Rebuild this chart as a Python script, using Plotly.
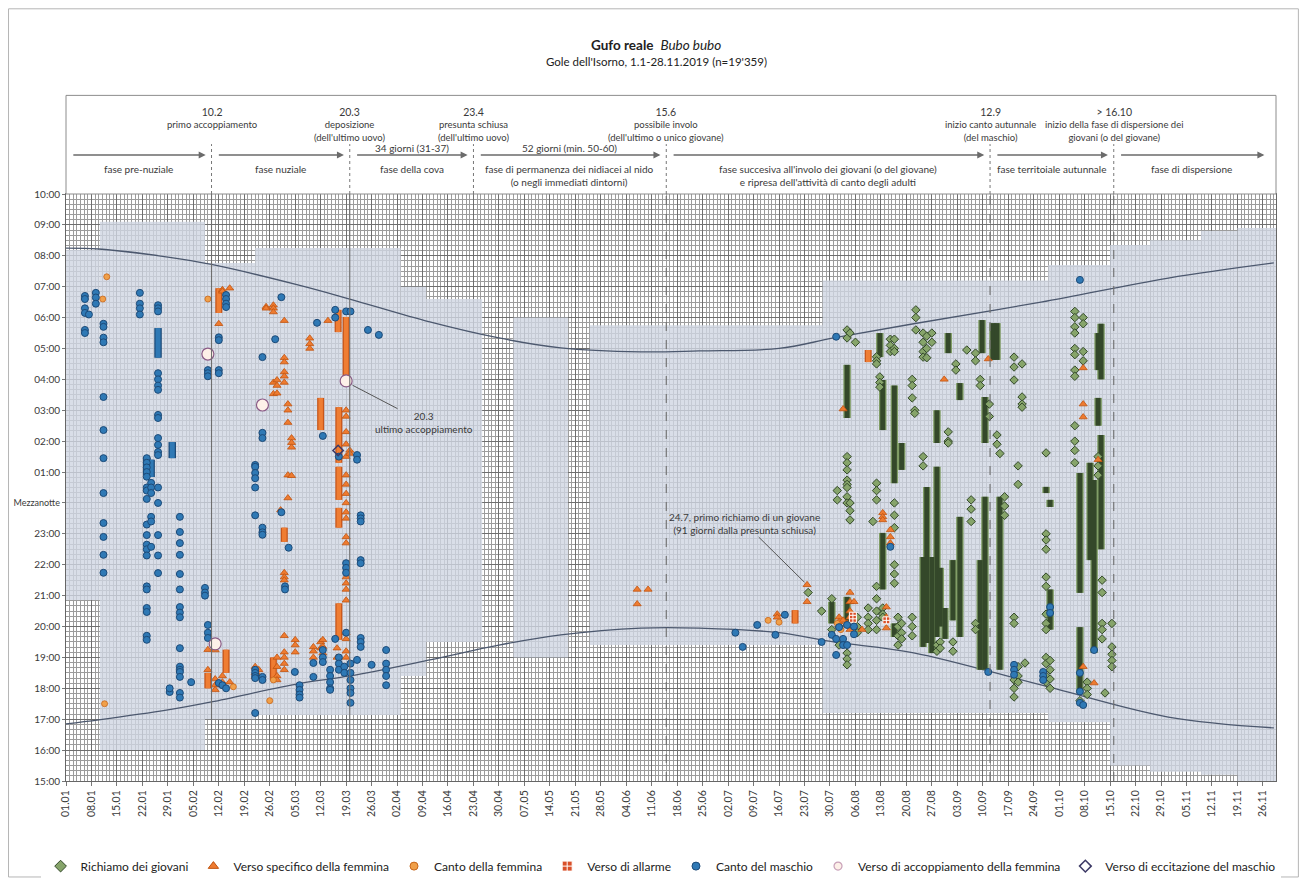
import plotly.graph_objects as go
from datetime import date

YEAR = 2019

# ---------------- axis labels ----------------
TICK_DATES = ["01.01", "08.01", "15.01", "22.01", "29.01", "05.02", "12.02", "19.02", "26.02",
              "05.03", "12.03", "19.03", "26.03", "02.04", "09.04", "16.04", "23.04", "30.04",
              "07.05", "14.05", "21.05", "28.05", "04.06", "11.06", "18.06", "25.06", "02.07",
              "09.07", "16.07", "23.07", "30.07", "06.08", "13.08", "20.08", "27.08", "03.09",
              "10.09", "17.09", "24.09", "01.10", "08.10", "15.10", "22.10", "29.10", "05.11",
              "12.11", "19.11", "26.11"]
Y_HOURS = [15, 16, 17, 18, 19, 20, 21, 22, 23, 24, 25, 26, 27, 28, 29, 30, 31, 32, 33, 34]
Y_LABELS = ["15:00", "16:00", "17:00", "18:00", "19:00", "20:00", "21:00", "22:00", "23:00",
            "Mezzanotte", "01:00", "02:00", "03:00", "04:00", "05:00", "06:00", "07:00",
            "08:00", "09:00", "10:00"]

# ---------------- phases / events ----------------
EVENT_DATES = ["10.02", "20.03", "23.04", "15.06", "12.09", "16.10"]
EVENT_TITLES = ["10.2", "20.3", "23.4", "15.6", "12.9", "> 16.10"]
EVENT_TEXTS = ["primo accoppiamento",
               "deposizione<br>(dell'ultimo uovo)",
               "presunta schiusa<br>(dell'ultimo uovo)",
               "possibile involo<br>(dell'ultimo o unico giovane)",
               "inizio canto autunnale<br>(del maschio)",
               "inizio della fase di dispersione dei<br>giovani (o del giovane)"]
PHASE_START, PHASE_END = "01.01", "28.11"
PHASE_LABELS = ["fase pre-nuziale", "fase nuziale", "fase della cova",
                "fase di permanenza dei nidiacei al nido<br>(o negli immediati dintorni)",
                "fase succesiva all'involo dei giovani (o del giovane)<br>e ripresa dell'attività di canto degli adulti",
                "fase territoiale autunnale", "fase di dispersione"]
PHASE_DURATIONS = ["", "", "34 giorni (31-37)", "52 giorni (min. 50-60)", "", "", ""]

# ---------------- sun (day of year, hour; hours after midnight +24) ----------------
SUN_DAYS = [0, 9, 28, 40, 64, 78, 100, 119, 136, 158, 174, 196, 211, 233, 268, 303, 332]
SUNRISE = [32.25, 32.22, 31.96, 31.72, 31.05, 30.6, 29.86, 29.34, 29.02, 28.89, 28.92, 29.0,
           29.34, 29.8, 30.5, 31.28, 31.77]
SUNSET = [16.85, 16.98, 17.3, 17.56, 18.15, 18.4, 18.92, 19.4, 19.73, 19.95, 19.95, 19.8,
          19.5, 19.15, 18.11, 17.07, 16.72]

# ---------------- recording windows ----------------
BAND_START = [0, 9.3, 38.2, 52, 92, 99, 123, 144, 208, 270, 287, 298, 312, 322]
BAND_END = [9.3, 38.2, 52, 92, 99, 114.4, 138, 208, 270, 287, 298, 312, 322, 332.6]
BAND_FROM = [20.86, 16.0, 17.0, 17.14, 18.4, 19.5, 19.0, 19.4, 17.2, 16.9, 15.5, 15.3, 15.2, 15.0]
BAND_TO = [32.19, 33.1, 31.77, 32.25, 31.0, 30.6, 30.0, 29.75, 31.2, 31.7, 32.35, 32.5, 32.8, 32.9]

# ---------------- observations (day of year, [hours]) ----------------
RICHIAMO_PTS = [
    (204.0, [21.1]), (207.7, [20.5]), (210.5, [20.9, 19.9]), (212.0, [24.4, 24.1]),
    (212.5, [20.0, 19.4]),
    (214.7, [29.6, 29.34, 25.5, 25.3, 25.07, 24.74, 24.6, 24.5, 24.2, 24.0, 19.14, 18.95, 18.76]),
    (215.5, [29.5, 24.0, 23.75, 23.45]), (217.0, [29.2]), (217.5, [20.3, 20.0, 19.8]),
    (220.5, [20.6, 20.3, 20.1, 19.9]), (221.8, [23.4]),
    (222.8, [28.73, 28.6, 28.5, 24.64, 24.4, 24.1, 21.3, 20.9, 20.5, 20.2, 19.9]),
    (223.7, [28.08, 27.9, 27.75]), (224.5, [20.6, 20.4, 20.3]), (226.6, [29.3, 29.1, 28.9]),
    (227.7, [29.3, 29.0, 28.9, 24.0, 23.6, 23.2, 22.0, 21.7, 21.4]),
    (228.7, [20.3, 20.0, 19.7, 19.4]), (229.7, [20.1, 19.8, 19.6]),
    (232.6, [28.0, 27.8, 27.4, 20.3, 20.0, 19.7]), (233.3, [27.0, 26.9]),
    (233.6, [30.25, 30.0, 29.6]), (235.6, [29.5, 29.2, 28.9, 28.72, 25.5, 25.2]),
    (236.6, [29.4, 29.0, 28.7]), (238.0, [29.5, 29.2]), (239.4, [19.4, 19.2]),
    (240.3, [19.5, 19.3]), (242.5, [26.3, 26.0, 25.94]), (243.8, [19.5, 19.2]),
    (244.6, [28.5, 28.3]), (247.6, [28.95]), (248.8, [24.1, 23.8, 23.4]),
    (250.0, [28.85, 28.6, 20.1, 19.9]), (251.3, [28.0, 27.8]), (253.8, [27.2, 26.8]),
    (255.9, [26.2, 25.9]), (256.7, [25.6]), (258.0, [24.2, 23.9, 23.6]),
    (260.6, [28.72, 28.4, 27.98, 20.3, 20.1, 18.27, 18.0, 17.72]),
    (261.7, [25.2, 24.6, 18.7, 18.4, 18.2]), (262.8, [28.5, 27.43, 27.2, 27.1]),
    (263.6, [18.82]),
    (269.4, [25.62, 23.0, 22.8, 22.5, 21.6, 21.3, 20.4, 20.1, 19.9, 19.0, 18.8, 18.4, 18.2]),
    (270.5, [18.9, 18.6, 18.3, 18.0]),
    (277.3, [30.2, 30.0, 29.7, 29.5, 29.0, 28.8, 28.3, 28.1, 26.5, 26.0, 25.7, 25.3]),
    (278.7, [17.6]), (279.6, [30.0, 29.8, 28.9, 28.6]), (280.7, [18.2, 18.0, 17.8]),
    (283.7, [25.5, 25.2, 24.9]), (284.8, [21.5, 21.1, 20.1, 19.9, 19.6]), (285.6, [17.85]),
    (287.5, [20.1, 19.34, 19.1, 18.9, 18.7]),
]
RICHIAMO_RUNS = [
    (210.5, 20.1, 20.8), (214.7, 26.75, 28.47), (214.7, 20.1, 20.96), (223.7, 28.72, 29.5),
    (224.5, 26.36, 27.98), (224.5, 21.2, 23.03), (227.7, 24.64, 27.8), (227.7, 19.66, 20.1),
    (229.7, 25.07, 25.94), (235.6, 19.34, 22.25), (236.6, 19.47, 24.52), (238.0, 19.14, 22.25),
    (239.4, 25.94, 27.0), (239.4, 19.66, 25.17), (240.3, 20.0, 21.9), (241.6, 19.6, 20.6),
    (242.5, 28.85, 29.5), (243.8, 20.2, 22.15), (245.7, 27.33, 27.88), (245.7, 19.66, 23.55),
    (251.3, 18.6, 22.15), (251.8, 28.85, 29.92), (252.6, 25.94, 27.43), (252.6, 18.6, 24.2),
    (254.8, 28.63, 29.82), (255.9, 28.63, 29.82), (256.7, 18.6, 24.2), (269.4, 24.32, 24.52),
    (270.5, 23.87, 24.1), (270.5, 19.9, 21.2), (278.7, 21.09, 24.97), (278.7, 17.85, 19.98),
    (281.5, 22.15, 25.3), (282.6, 19.14, 24.74), (283.7, 28.3, 29.5), (283.7, 26.5, 27.4),
    (284.5, 28.0, 29.8), (284.5, 22.5, 26.2),
]

FEMMINA_SPEC_PTS = [
    (39.0, [19.25, 18.6]), (41.0, [19.24, 18.3, 18.1, 17.95]), (42.0, [29.8]),
    (43.0, [30.9, 30.85, 18.4, 18.2]), (45.0, [30.95, 18.2]), (52.0, [18.7, 18.5, 18.37]),
    (53.0, [18.6, 18.4]), (55.0, [30.35, 30.3]), (57.0, [30.4, 30.3, 30.18, 27.9, 27.53]),
    (58.0, [27.98, 27.8, 27.55, 19.0, 18.7, 18.4, 18.27]), (59.0, [23.77]),
    (60.0, [29.9, 28.7, 28.56, 28.24, 28.1, 27.9, 21.74, 21.6, 21.5, 19.7, 19.17, 19.0, 18.8, 18.6]),
    (61.0, [27.2, 27.0, 26.6, 24.9, 24.16]), (62.0, [26.1, 25.95, 25.8, 24.88]),
    (63.0, [19.57, 19.4, 19.17]), (67.0, [29.33, 29.15, 29.0]), (68.0, [19.34, 19.2, 19.0]),
    (70.0, [19.5, 19.3]), (70.6, [19.57, 19.35, 19.14]), (72.0, [29.9]), (74.5, [19.3, 19.0]),
    (77.0, [27.0, 26.8, 26.3, 25.9, 25.5, 24.9, 24.6, 24.3, 24.0, 23.7, 23.5, 22.9, 22.7,
            21.6, 21.4, 21.2, 20.85, 19.8, 19.6, 19.2, 19.0]),
    (78.0, [25.7, 25.6]), (157.0, [21.2, 20.73]), (160.0, [21.2]), (195.5, [20.4, 20.3]),
    (203.7, [21.35, 20.8]), (212.5, [20.3, 20.15, 20.0]), (213.6, [27.04, 20.2]),
    (214.7, [20.1]), (215.5, [21.1, 20.8, 20.5, 20.3, 19.9]), (216.6, [20.8, 20.0]),
    (218.8, [19.9]), (224.5, [23.68, 23.55, 23.45]), (225.5, [20.63, 20.3, 19.95]),
    (226.6, [23.13, 22.9, 22.7]), (241.4, [28.0]), (253.5, [28.66]),
    (279.6, [28.37, 27.2, 26.78, 18.7]), (282.6, [18.17]), (283.7, [25.4]),
]
FEMMINA_SPEC_RUNS = [
    (39.0, 18.0, 18.5), (42.0, 30.15, 30.95), (44.0, 18.5, 19.25), (57.0, 18.27, 19.0),
    (60.0, 22.74, 23.2), (70.0, 26.36, 27.4), (74.8, 29.53, 30.25), (75.0, 25.3, 27.1),
    (75.0, 24.1, 25.17), (75.0, 23.2, 23.84), (75.0, 19.57, 20.75), (77.0, 27.98, 30.02),
    (200.4, 20.1, 20.53), (220.5, 28.56, 28.95),
]

CANTO_FEMMINA_PTS = [
    (10.1, [30.6]), (11.2, [31.32]), (10.6, [17.5]), (39.0, [30.6]), (46.0, [18.05]),
    (56.0, [17.6]), (57.0, [18.27]), (193.0, [20.2]), (196.0, [20.14]), (212.0, [20.1]),
    (213.0, [19.9]), (216.6, [20.2]),
]

ALLARME_PTS = [(216.3, [20.35, 20.25]), (225.5, [20.2])]

MASCHIO_PTS = [
    (5.2, [30.7, 30.6, 30.3, 30.15, 29.6, 29.5]), (6.3, [30.1]), (8.2, [30.8, 30.65, 30.45]),
    (10.3, [29.8, 29.7, 29.35, 29.2, 27.43, 26.36, 25.45, 24.32, 23.35, 22.9, 22.32, 21.74]),
    (20.3, [30.8, 30.45, 30.3, 30.1]),
    (22.2, [25.45, 25.3, 25.15, 25.0, 24.85, 24.5, 24.4, 24.13, 23.3, 22.96, 22.65, 22.5, 22.3,
            21.3, 21.2, 20.6, 20.47, 19.7, 19.57]),
    (23.4, [24.65, 24.5, 24.32, 23.55, 23.4, 22.58]),
    (25.3, [30.4, 30.3, 30.2, 28.2, 28.0, 27.8, 27.66, 26.85, 26.75, 26.1, 25.88, 25.65, 25.55,
            24.5, 24.0, 22.96, 22.3, 21.73]),
    (28.5, [17.88, 18.0]),
    (31.3, [23.55, 23.06, 22.7, 22.32, 21.7, 21.2, 20.63, 20.45, 20.3, 19.3, 18.7, 18.6, 18.53,
            18.37, 17.85, 17.7]),
    (34.4, [18.2]), (38.2, [21.25, 21.1, 21.0]), (39.0, [20.05, 19.8, 19.63, 28.3, 28.2, 28.1]),
    (42.0, [18.17, 29.36, 29.27, 28.3, 28.2]), (43.0, [18.1]),
    (44.0, [18.0, 30.73, 30.6, 30.45, 30.34]),
    (52.0, [25.23, 25.17, 24.97, 24.8, 24.5, 23.6, 18.6, 18.5, 18.4, 18.33, 17.2]),
    (54.0, [28.72, 26.27, 26.1, 23.2, 23.05, 22.97, 18.37, 18.27]), (57.5, [29.3]),
    (59.2, [30.66, 23.7]), (60.2, [21.3, 21.2]), (61.2, [22.55]), (62.9, [18.53]),
    (64.2, [18.1, 17.95, 17.8, 17.7]), (68.0, [18.82, 18.37]), (69.0, [29.83]),
    (70.6, [26.17, 19.24, 19.0, 18.85]), (72.6, [18.6, 18.4, 18.2, 18.0, 17.95]),
    (74.0, [30.25, 30.0, 19.6]), (75.0, [25.5, 19.0, 18.8, 18.6]), (76.5, [18.7, 18.5]),
    (77.0, [30.2, 22.05, 21.9, 21.74, 19.8]), (78.2, [30.2, 18.8, 18.5, 18.27, 18.0, 17.85, 17.53]),
    (80.0, [25.55, 25.4, 18.92]), (81.0, [23.6, 23.5, 23.4, 22.15, 22.05, 19.63, 19.5, 19.34]),
    (83.0, [29.6]), (84.0, [18.76]), (86.0, [29.44]), (88.0, [19.24, 18.8, 18.6, 18.4, 18.1]),
    (184.0, [19.8]), (186.0, [19.34]), (190.0, [20.05]), (195.0, [19.73]), (197.6, [20.38]),
    (207.7, [19.5]), (210.5, [19.73]), (211.7, [29.38, 19.6, 19.08]), (212.5, [19.98]),
    (213.6, [19.6, 19.4]), (214.7, [20.05, 19.4]), (216.6, [20.0, 19.75]), (226.6, [22.58]),
    (253.5, [18.53]), (260.6, [18.76, 18.6, 18.44]), (268.6, [18.53, 18.4, 18.27]),
    (270.5, [20.63, 20.44]), (278.7, [31.22, 18.5, 17.9, 17.53]), (279.6, [17.46]),
    (282.6, [19.24]),
]
MASCHIO_RUNS = [(22.2, 24.9, 25.45), (23.4, 24.84, 25.4), (25.3, 28.7, 29.66), (29.2, 25.45, 25.97)]

ACCOPPIAMENTO_PTS = [(39.0, [28.82]), (41.0, [19.44]), (54.0, [27.17]), (77.0, [27.95])]
ECCITAZIONE_PTS = [(74.8, [25.7])]


# ---------------- helpers ----------------
def doy(s):
    d, m = s.split(".")
    return (date(YEAR, int(m), int(d)) - date(YEAR, 1, 1)).days


def pts(cols):
    xs, ys = [], []
    for d, hs in cols:
        for h in hs:
            xs.append(d)
            ys.append(h)
    return xs, ys


def runs(rs):
    xs, ys = [], []
    for d, a, b in rs:
        xs += [d, d, None]
        ys += [a, b, None]
    return xs, ys


FONT = "Lato"
TXT = "#3a3a3a"

fig = go.Figure()

# sun lines
for series in (SUNRISE, SUNSET):
    fig.add_trace(go.Scatter(x=SUN_DAYS, y=series, mode="lines",
                             line=dict(color="#4c586e", width=1.3, shape="spline"),
                             showlegend=False, hoverinfo="skip"))

GREEN_FILL, GREEN_LINE = "#86a46a", "#33492a"
TRI_FILL, TRI_LINE = "#ee7b30", "#c0530f"
OC_FILL, OC_LINE = "#f0a04a", "#c8661a"
BLUE_FILL, BLUE_LINE = "#2f79b5", "#1c4a78"

# dense runs (outer lighter halo + darker core, like stacked markers)
for rr, halo, core, w in ((RICHIAMO_RUNS, "#7f9c64", "#34482a", 5),
                          (FEMMINA_SPEC_RUNS, "#c8561a", "#ef7d33", 4.5),
                          (MASCHIO_RUNS, "#1c4a78", "#2f79b5", 5)):
    rx, ry = runs(rr)
    fig.add_trace(go.Scatter(x=rx, y=ry, mode="lines", line=dict(color=halo, width=w + 2.5),
                             showlegend=False, hoverinfo="skip"))
    fig.add_trace(go.Scatter(x=rx, y=ry, mode="lines", line=dict(color=core, width=w),
                             showlegend=False, hoverinfo="skip"))

SERIES = [
    ("Richiamo dei giovani", RICHIAMO_PTS, dict(symbol="diamond", size=6.5, color=GREEN_FILL, line=dict(color=GREEN_LINE, width=1))),
    ("Verso specifico della femmina", FEMMINA_SPEC_PTS, dict(symbol="triangle-up", size=7, color=TRI_FILL, line=dict(color=TRI_LINE, width=0.8))),
    ("Canto della femmina", CANTO_FEMMINA_PTS, dict(symbol="circle", size=6, color=OC_FILL, line=dict(color=OC_LINE, width=0.8))),
    ("Verso di allarme", ALLARME_PTS, dict(symbol="square-cross", size=7, color="#d9502a", line=dict(color="white", width=1))),
    ("Canto del maschio", MASCHIO_PTS, dict(symbol="circle", size=7, color=BLUE_FILL, line=dict(color=BLUE_LINE, width=1))),
    ("Verso di accoppiamento della femmina", ACCOPPIAMENTO_PTS, dict(symbol="circle", size=12, color="#fdf0e8", line=dict(color="#8a5a86", width=1.2))),
    ("Verso di eccitazione del maschio", ECCITAZIONE_PTS, dict(symbol="diamond-open", size=8, color="#3d3a66", line=dict(width=1.5))),
]
LEGEND_MARKERS = [
    dict(symbol="diamond", size=9, color=GREEN_FILL, line=dict(color=GREEN_LINE, width=1)),
    dict(symbol="triangle-up", size=9, color=TRI_FILL, line=dict(color=TRI_LINE, width=1)),
    dict(symbol="circle", size=8, color=OC_FILL, line=dict(color=OC_LINE, width=1)),
    dict(symbol="square-cross", size=10, color="#d9502a", line=dict(color="white", width=1)),
    dict(symbol="circle", size=8, color=BLUE_FILL, line=dict(color=BLUE_LINE, width=1)),
    dict(symbol="circle", size=8, color="#fdf0e8", line=dict(color="#c8a0b8", width=1.2)),
    dict(symbol="diamond-open", size=9, color="#3d3a66", line=dict(width=1.5)),
]
for name, data, mk in SERIES:
    xs, ys = pts(data)
    fig.add_trace(go.Scatter(x=xs, y=ys, mode="markers", marker=mk, name=name, showlegend=False,
                             legendgroup=name, hoverinfo="skip"))
for (name, data, mk), lmk in zip(SERIES, LEGEND_MARKERS):
    fig.add_trace(go.Scatter(x=[None], y=[None], mode="markers", marker=lmk, name=name,
                             legendgroup=name, showlegend=True))

# recording windows
for x0, x1, y0, y1 in zip(BAND_START, BAND_END, BAND_FROM, BAND_TO):
    fig.add_shape(type="rect", xref="x", yref="y", x0=x0, x1=x1, y0=y0, y1=y1,
                  fillcolor="rgba(208,214,226,0.8)", line=dict(width=0), layer="between")

# top panel
PANEL_TOP = 1.168
fig.add_shape(type="rect", xref="paper", yref="paper", x0=0, x1=1, y0=1.0, y1=PANEL_TOP,
              line=dict(color="#8c8c8c", width=1), fillcolor="white", layer="above")

event_days = [doy(e) for e in EVENT_DATES]
EVENT_LINE = ["solid", "solid", None, "dash", "dash", "dash"]
for d, title, txt, ls in zip(event_days, EVENT_TITLES, EVENT_TEXTS, EVENT_LINE):
    fig.add_shape(type="line", xref="x", yref="paper", x0=d, x1=d, y0=1.0, y1=1.085,
                  line=dict(color="#777", width=1, dash="dot"))
    if ls:
        fig.add_shape(type="line", xref="x", yref="paper", x0=d, x1=d, y0=0, y1=1.0,
                      line=dict(color="#6e6e6e", width=1.1, dash=ls), layer="above")
    fig.add_annotation(x=d, y=1.154, xref="x", yref="paper", yanchor="top", showarrow=False,
                       text=f"<span style='font-size:10.5px'>{title}</span><br>{txt}",
                       font=dict(family=FONT, size=9.5, color=TXT), align="center")

bounds = [doy(PHASE_START)] + event_days + [doy(PHASE_END)]
for i, (lab, dur) in enumerate(zip(PHASE_LABELS, PHASE_DURATIONS)):
    a, b = bounds[i] + 1.6, bounds[i + 1] - 1.6
    fig.add_annotation(x=b, y=1.0664, ax=a, ay=0, xref="x", yref="paper", axref="x", ayref="pixel",
                       showarrow=True, arrowhead=2, arrowsize=1, arrowwidth=1.4, arrowcolor="#6b6b6b", text="")
    mid = (a + b) / 2
    fig.add_annotation(x=mid, y=1.056, xref="x", yref="paper", yanchor="top", showarrow=False, text=lab,
                       font=dict(family=FONT, size=10, color=TXT), align="center")
    if dur:
        fig.add_annotation(x=mid, y=1.0645, xref="x", yref="paper", yanchor="bottom", showarrow=False, text=dur,
                           font=dict(family=FONT, size=10, color=TXT))

# in-plot notes
fig.add_annotation(x=77.3, y=27.9, ax=98.5, ay=26.6, xref="x", yref="y", axref="x", ayref="y",
                   text="20.3<br>ultimo accoppiamento", showarrow=True, arrowhead=0, arrowwidth=1,
                   arrowcolor="#555", standoff=6, font=dict(family=FONT, size=10, color=TXT))
fig.add_annotation(x=203.7, y=21.35, ax=186.5, ay=23.35, xref="x", yref="y", axref="x", ayref="y",
                   text="24.7, primo richiamo di un giovane<br>(91 giorni dalla presunta schiusa)",
                   showarrow=True, arrowhead=0, arrowwidth=1, arrowcolor="#555", standoff=4,
                   font=dict(family=FONT, size=10, color=TXT))

# titles
fig.add_annotation(x=0.488, y=1.254, xref="paper", yref="paper", yanchor="middle", showarrow=False,
                   text="<b>Gufo reale</b>  <i>Bubo bubo</i>", font=dict(family=FONT, size=13.5, color="#222"))
fig.add_annotation(x=0.488, y=1.225, xref="paper", yref="paper", yanchor="middle", showarrow=False,
                   text="Gole dell'Isorno, 1.1-28.11.2019 (n=19'359)", font=dict(family=FONT, size=11.5, color="#222"))

# page frame
fig.add_shape(type="rect", xref="paper", yref="paper", x0=-0.0475, x1=1.0185, y0=-0.1635, y1=1.3155,
              line=dict(color="#b5b5b5", width=1))

tick_x = [doy(t) for t in TICK_DATES]
y_text = [f"<span style='font-size:9px'>{t}</span>" if len(t) > 5 else t for t in Y_LABELS]
fig.update_xaxes(range=[0, 332.6], tickmode="array", tickvals=tick_x, ticktext=TICK_DATES, tickangle=-90,
                 tickfont=dict(family=FONT, size=10.5, color=TXT), showgrid=True, gridcolor="#6e6e6e", gridwidth=1,
                 ticks="outside", ticklen=4, tickcolor="#777", showline=True, linecolor="#666", mirror=True,
                 zeroline=False, automargin=False,
                 minor=dict(tickmode="linear", tick0=0, dtick=1, showgrid=True, gridcolor="#9c9c9c", gridwidth=0.7))
fig.update_yaxes(range=[15, 34], tickmode="array", tickvals=Y_HOURS, ticktext=y_text,
                 tickfont=dict(family=FONT, size=10, color=TXT), showgrid=True, gridcolor="#6e6e6e", gridwidth=1,
                 ticks="outside", ticklen=3, tickcolor="#777", showline=True, linecolor="#666", mirror=True,
                 zeroline=False, automargin=False,
                 minor=dict(tickmode="linear", tick0=15, dtick=1 / 6, showgrid=True, gridcolor="#9c9c9c", gridwidth=0.7))

# the page adds an 8px body margin, so the figure is 16px smaller than the window
fig.update_layout(
    width=1292, height=870,
    margin=dict(l=58, r=24, t=186, b=97, autoexpand=False),
    paper_bgcolor="white", plot_bgcolor="white",
    legend=dict(orientation="h", x=-0.021, xanchor="left", y=-0.145, yanchor="middle",
                font=dict(family=FONT, size=12, color="#222"), itemwidth=30, tracegroupgap=0),
    showlegend=True,
)

fig.write_html("out.html")
